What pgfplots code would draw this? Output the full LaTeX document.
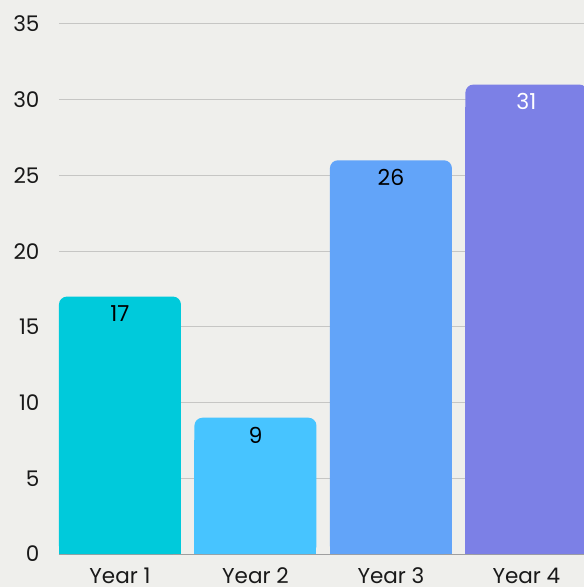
\documentclass[border=0pt]{standalone}
\usepackage{fontspec}
\setmainfont{Poppins}
\usepackage{pgfplots}
\pgfplotsset{compat=1.18}
\definecolor{bg}{HTML}{EFEFEC}
\definecolor{cA}{HTML}{00CADB}
\definecolor{cB}{HTML}{47C4FF}
\definecolor{cC}{HTML}{62A4F9}
\definecolor{cD}{HTML}{7C80E6}
\definecolor{gridc}{HTML}{C6C6C4}
\begin{document}
\begin{tikzpicture}[x=1pt,y=1pt]
\useasboundingbox (-59,-33) rectangle (525,554);
\fill[bg] (-59,-33) rectangle (525,554);
\begin{axis}[at={(0,0)}, anchor=south west, scale only axis,
  width=525pt, height=554pt,
  xmin=-0.45, xmax=3.425, ymin=0, ymax=36.585,
  axis x line=bottom, axis y line=left,
  x axis line style={-, draw=gray!75, line width=1pt},
  y axis line style={draw=none},
  ytick={0,5,...,35}, ymajorgrids,
  grid style={gridc, line width=1pt},
  xtick={0,1,2,3}, xticklabels={Year 1,Year 2,Year 3,Year 4},
  major tick length=0pt,
  /pgf/number format/assume math mode=true,
  ticklabel style={font=\fontsize{21.5}{24}\selectfont, text=black!90},
  yticklabel style={anchor=east, xshift=-16pt},
  xticklabel style={anchor=north, yshift=-19pt, text height=0.72em, text depth=0pt},
  bar width=122pt,
  nodes near coords style={anchor=north, inner sep=0pt, yshift=-9pt, font=\fontsize{22}{24}\selectfont},
]
\addplot[ybar, bar shift=0pt, fill=cA, draw=none, rounded corners=8pt, nodes near coords, nodes near coords style={text=black}] coordinates {(0,17)};
\addplot[ybar, bar shift=0pt, fill=cA, draw=none, y filter/.expression={y-1.5}] coordinates {(0,17)};
\addplot[ybar, bar shift=0pt, fill=cB, draw=none, rounded corners=8pt, nodes near coords, nodes near coords style={text=black}] coordinates {(1,9)};
\addplot[ybar, bar shift=0pt, fill=cB, draw=none, y filter/.expression={y-1.5}] coordinates {(1,9)};
\addplot[ybar, bar shift=0pt, fill=cC, draw=none, rounded corners=8pt, nodes near coords, nodes near coords style={text=black}] coordinates {(2,26)};
\addplot[ybar, bar shift=0pt, fill=cC, draw=none, y filter/.expression={y-1.5}] coordinates {(2,26)};
\addplot[ybar, bar shift=0pt, fill=cD, draw=none, rounded corners=8pt, nodes near coords, nodes near coords style={text=white}] coordinates {(3,31)};
\addplot[ybar, bar shift=0pt, fill=cD, draw=none, y filter/.expression={y-1.5}] coordinates {(3,31)};
\end{axis}
\end{tikzpicture}
\end{document}
